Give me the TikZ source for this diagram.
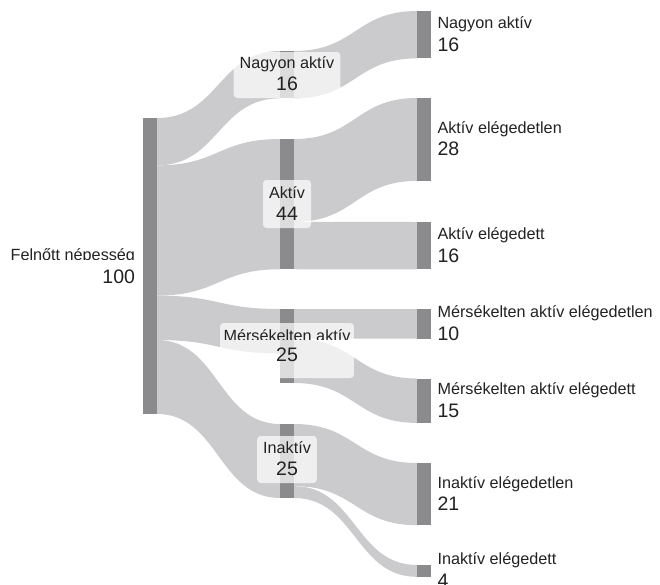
\documentclass[tikz,border=0pt]{standalone}
\usepackage{fontspec}
\setmainfont{Liberation Sans}
\usetikzlibrary{calc}
\definecolor{nodec}{HTML}{8B8B8D}
\definecolor{linkc}{HTML}{CBCBCD}
\definecolor{txtc}{HTML}{222222}
\pgfdeclarelayer{bg}
\pgfsetlayers{bg,main}
\tikzset{
  sknode/.style={fill=nodec, inner sep=0pt, outer sep=0pt, minimum width=14pt, anchor=north},
  labtxt/.style={text=txtc, inner sep=0pt, outer sep=0pt, font=\fontsize{16.2}{19}\selectfont},
  numtxt/.style={text=txtc, inner sep=0pt, outer sep=0pt, font=\fontsize{19.5}{22}\selectfont},
  mbox/.style={fill=white, fill opacity=0.7, rounded corners=3.5pt, inner ysep=0pt, inner xsep=6pt,
    outer sep=0pt, text height=0pt, anchor=north, font=\fontsize{16.2}{19}\selectfont}
}
% ribbon from node #1 (offset #2 units) to node #3 (offset #4 units), value #5
\newcommand\sklink[5]{%
  \fill[linkc] let \p1=(#1.north east), \p2=(#3.north west),
    \n1={\y1-(#2)*2.96pt}, \n2={\y1-(#2+#5)*2.96pt},
    \n3={\y2-(#4)*2.96pt}, \n4={\y2-(#4+#5)*2.96pt},
    \n5={(\x1+\x2)/2} in
    (\x1,\n1) .. controls (\n5,\n1) and (\n5,\n3) .. (\x2,\n3) -- (\x2,\n4)
    .. controls (\n5,\n4) and (\n5,\n2) .. (\x1,\n2) -- cycle;}
% right-hand labels
\newcommand\rlab[3]{%
  \node[labtxt, anchor=base west] (#1-t) at ($(#1.east)+(6.5pt,6pt)$) {#2};
  \node[numtxt, anchor=base west] (#1-n) at ($(#1.east)+(6.5pt,-16.5pt)$) {#3};}
% middle labels: node, text, number, box top, box height, label baseline, number baseline
\newcommand\mlab[7]{%
  \node[mbox, text depth=#5pt] (#1-b) at (287,#4) {\phantom{#2}};
  \node[labtxt, anchor=base] (#1-t) at (287,#6) {#2};
  \node[numtxt, anchor=base] (#1-n) at (287,#7) {#3};}
\begin{document}
\begin{tikzpicture}[x=1pt,y=-1pt]
\useasboundingbox (0,0) rectangle (660,584);
\clip (0,0) rectangle (660,584);
% nodes
\node[sknode, minimum height=296pt] (F) at (150,118) {};
\node[sknode, minimum height=47.36pt] (mNA) at (287,51) {};
\node[sknode, minimum height=130.24pt] (mA) at (287,139) {};
\node[sknode, minimum height=74pt] (mM) at (287,309) {};
\node[sknode, minimum height=74pt] (mI) at (287,424) {};
\node[sknode, minimum height=47.36pt] (rNA) at (424,11) {};
\node[sknode, minimum height=82.88pt] (rAE) at (424,98) {};
\node[sknode, minimum height=47.36pt] (rAS) at (424,222) {};
\node[sknode, minimum height=29.6pt] (rME) at (424,309) {};
\node[sknode, minimum height=44.4pt] (rMS) at (424,378.5) {};
\node[sknode, minimum height=62.16pt] (rIE) at (424,463) {};
\node[sknode, minimum height=11.84pt] (rIS) at (424,565) {};
% links
\begin{pgfonlayer}{bg}
\sklink{F}{0}{mNA}{0}{16}
\sklink{F}{16}{mA}{0}{44}
\sklink{F}{60}{mM}{0}{15}
\sklink{F}{75}{mI}{0}{25}
\sklink{mNA}{0}{rNA}{0}{16}
\sklink{mA}{0}{rAE}{0}{28}
\sklink{mA}{28}{rAS}{0}{16}
\sklink{mM}{0}{rME}{0}{10}
\sklink{mM}{10}{rMS}{0}{15}
\sklink{mI}{0}{rIE}{0}{21}
\sklink{mI}{21}{rIS}{0}{4}
\end{pgfonlayer}
% left label
\begin{scope}
\clip (0,0) rectangle (660,259.5);
\node[labtxt, anchor=base east] (F-t) at ($(F.west)+(-8pt,6pt)$) {Felnőtt népesség};
\end{scope}
\node[numtxt, anchor=base east] (F-n) at ($(F.west)+(-8pt,-17pt)$) {100};
% middle labels
\mlab{mNA}{Nagyon aktív}{16}{52}{46}{68}{90}
\mlab{mA}{Aktív}{44}{180}{48}{198}{220}
\node[mbox, inner xsep=3.5pt, text depth=55pt] (mM-b) at (287,323) {\phantom{Mérsékelten aktív}};
\begin{scope}
\clip (0,0) rectangle (660,339.3);
\node[labtxt, anchor=base] (mM-t) at (287,341) {Mérsékelten aktív};
\end{scope}
\node[numtxt, anchor=base] (mM-n) at (287,361) {25};
\mlab{mI}{Inaktív}{25}{436}{47}{453}{475}
% right labels
\rlab{rNA}{Nagyon aktív}{16}
\rlab{rAE}{Aktív elégedetlen}{28}
\rlab{rAS}{Aktív elégedett}{16}
\rlab{rME}{Mérsékelten aktív elégedetlen}{10}
\rlab{rMS}{Mérsékelten aktív elégedett}{15}
\rlab{rIE}{Inaktív elégedetlen}{21}
\rlab{rIS}{Inaktív elégedett}{4}
\end{tikzpicture}
\end{document}
